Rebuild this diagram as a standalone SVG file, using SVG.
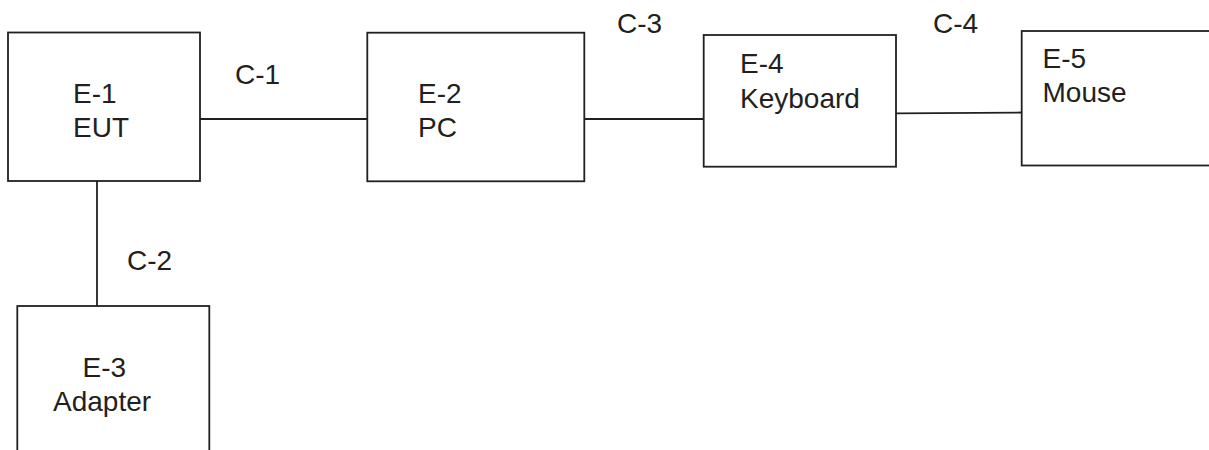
<svg xmlns="http://www.w3.org/2000/svg" width="1209" height="450" viewBox="0 0 1209 450">
  <style>
    .box { fill: none; stroke: #231f20; stroke-width: 1.8; }
    .wire { stroke: #231f20; stroke-width: 1.8; fill: none; }
    text { font-family: "Liberation Sans", Arial, sans-serif; font-size: 28px; fill: #231f20; }
  </style>
  <rect width="1209" height="450" fill="#ffffff"/>

  <!-- cables -->
  <g id="connectors">
    <line class="wire" x1="200" y1="119" x2="367" y2="119"/>
    <line class="wire" x1="97" y1="181" x2="97" y2="306"/>
    <line class="wire" x1="584" y1="119" x2="704" y2="119"/>
    <line class="wire" x1="896" y1="113.3" x2="1022" y2="112.5"/>
    <text x="235" y="83.5">C-1</text>
    <text x="127" y="270">C-2</text>
    <text x="617" y="33">C-3</text>
    <text x="933" y="33">C-4</text>
  </g>

  <!-- equipment -->
  <g id="e1">
    <rect class="box" x="8" y="32.5" width="192" height="148.5"/>
    <text x="73" y="103.3">E-1</text>
    <text x="73" y="137.3">EUT</text>
  </g>
  <g id="e2">
    <rect class="box" x="367.3" y="32.7" width="217" height="148.6"/>
    <text x="418" y="103.3">E-2</text>
    <text x="418" y="137.3">PC</text>
  </g>
  <g id="e3">
    <rect class="box" x="17.3" y="306" width="192" height="160"/>
    <text x="82.5" y="377">E-3</text>
    <text x="53" y="411">Adapter</text>
  </g>
  <g id="e4">
    <rect class="box" x="703.7" y="35" width="192.3" height="131.7"/>
    <text x="740" y="73.3">E-4</text>
    <text x="740" y="107.5">Keyboard</text>
  </g>
  <g id="e5">
    <rect class="box" x="1021.7" y="31" width="200" height="134.5"/>
    <text x="1042.5" y="68">E-5</text>
    <text x="1042.5" y="102">Mouse</text>
  </g>
</svg>
